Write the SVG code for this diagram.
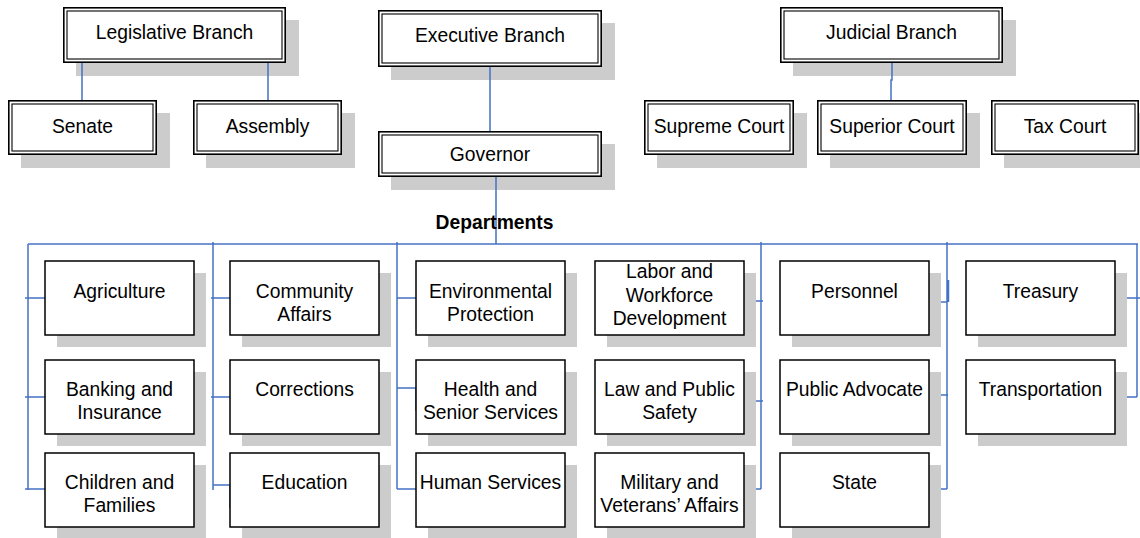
<svg xmlns="http://www.w3.org/2000/svg" width="1140" height="538" viewBox="0 0 1140 538">
<style>
.sh{fill:#cccccc}
.ob{fill:#ffffff;stroke:#000;stroke-width:1.6}
.ib{fill:none;stroke:#000;stroke-width:1.1}
.db{fill:#ffffff;stroke:#000;stroke-width:1.5}
text{font-family:"Liberation Sans",Arial,sans-serif;font-size:19.3px;fill:#000;text-anchor:middle}
.b{font-weight:bold}
.c{fill:none;stroke:#4472C4;stroke-width:1.5}
</style>
<rect width="1140" height="538" fill="#ffffff"/>
<g id="shadows">
<rect class="sh" x="76" y="20" width="223" height="56"/>
<rect class="sh" x="21" y="113" width="149" height="55"/>
<rect class="sh" x="206" y="113" width="149" height="55"/>
<rect class="sh" x="391" y="23" width="224" height="57"/>
<rect class="sh" x="391" y="144" width="224" height="46"/>
<rect class="sh" x="793" y="20" width="223" height="56"/>
<rect class="sh" x="657" y="113" width="150" height="55"/>
<rect class="sh" x="830" y="113" width="150" height="55"/>
<rect class="sh" x="1004" y="113" width="148" height="55"/>
</g>
<g id="connectors">
<path class="c" d="M82 63V100M268 63V100M490 67V131M892 63V80H891V100M496 177V244"/>
<path class="c" d="M28 244H1138"/>
<path class="c" d="M28 244V490M25 298H45M25 397H45M25 489H45"/>
<path class="c" d="M213 242V490M211 298H230M211 397H230M213 485H230V508"/>
<path class="c" d="M397 242V489M397 298H416M397 388H416V411M397 489H416"/>
<path class="c" d="M761 242V489M744 301H763M744 401H763M744 489H761"/>
<path class="c" d="M947 242V489M929 296V302H947M948.5 280V302M929 395H948M929 489H947"/>
<path class="c" d="M1137 244V397M1114 298H1140M1114 397H1137"/>
</g>
<g id="legislative"><rect class="ob" x="63.8" y="7.8" width="221.4" height="54.4"/><rect class="ib" x="67" y="11" width="215" height="48"/><text x="174.5" y="39">Legislative Branch</text></g>
<g id="senate"><rect class="ob" x="8.8" y="100.8" width="147.4" height="53.4"/><rect class="ib" x="12" y="104" width="141" height="47"/><text x="82.5" y="133">Senate</text></g>
<g id="assembly"><rect class="ob" x="193.8" y="100.8" width="147.4" height="53.4"/><rect class="ib" x="197" y="104" width="141" height="47"/><text x="267.5" y="133">Assembly</text></g>
<g id="executive"><rect class="ob" x="378.8" y="10.8" width="222.4" height="55.4"/><rect class="ib" x="382" y="14" width="216" height="49"/><text x="490" y="42">Executive Branch</text></g>
<g id="governor"><rect class="ob" x="378.8" y="131.8" width="222.4" height="44.4"/><rect class="ib" x="382" y="135" width="216" height="38"/><text x="490" y="161">Governor</text></g>
<g id="judicial"><rect class="ob" x="780.8" y="7.8" width="221.4" height="54.4"/><rect class="ib" x="784" y="11" width="215" height="48"/><text x="891.5" y="39">Judicial Branch</text></g>
<g id="supreme"><rect class="ob" x="644.8" y="100.8" width="148.4" height="53.4"/><rect class="ib" x="648" y="104" width="142" height="47"/><text x="719" y="133">Supreme Court</text></g>
<g id="superior"><rect class="ob" x="817.8" y="100.8" width="148.4" height="53.4"/><rect class="ib" x="821" y="104" width="142" height="47"/><text x="892" y="133">Superior Court</text></g>
<g id="tax"><rect class="ob" x="991.8" y="100.8" width="146.4" height="53.4"/><rect class="ib" x="995" y="104" width="140" height="47"/><text x="1065" y="133">Tax Court</text></g>
<text class="b" x="494.5" y="229">Departments</text>
<g id="agriculture"><rect class="sh" x="57" y="273" width="149" height="74"/><rect class="db" x="45" y="261" width="149" height="74"/><text x="119.5" y="298">Agriculture</text></g>
<g id="banking"><rect class="sh" x="57" y="372" width="149" height="74"/><rect class="db" x="45" y="360" width="149" height="74"/><text x="119.5" y="396">Banking and</text><text x="119.5" y="419.3">Insurance</text></g>
<g id="children"><rect class="sh" x="57" y="465" width="149" height="74"/><rect class="db" x="45" y="453" width="149" height="74"/><text x="119.5" y="489">Children and</text><text x="119.5" y="512.3">Families</text></g>
<g id="community"><rect class="sh" x="242" y="273" width="149" height="74"/><rect class="db" x="230" y="261" width="149" height="74"/><text x="304.5" y="298">Community</text><text x="304.5" y="321.3">Affairs</text></g>
<g id="corrections"><rect class="sh" x="242" y="372" width="149" height="74"/><rect class="db" x="230" y="360" width="149" height="74"/><text x="304.5" y="396">Corrections</text></g>
<g id="education"><rect class="sh" x="242" y="465" width="149" height="74"/><rect class="db" x="230" y="453" width="149" height="74"/><text x="304.5" y="489">Education</text></g>
<g id="environmental"><rect class="sh" x="428" y="273" width="149" height="74"/><rect class="db" x="416" y="261" width="149" height="74"/><text x="490.5" y="298">Environmental</text><text x="490.5" y="321.3">Protection</text></g>
<g id="health"><rect class="sh" x="428" y="372" width="149" height="74"/><rect class="db" x="416" y="360" width="149" height="74"/><text x="490.5" y="396">Health and</text><text x="490.5" y="419.3">Senior Services</text></g>
<g id="human"><rect class="sh" x="428" y="465" width="149" height="74"/><rect class="db" x="416" y="453" width="149" height="74"/><text x="490.5" y="489">Human Services</text></g>
<g id="labor"><rect class="sh" x="607" y="273" width="149" height="74"/><rect class="db" x="595" y="261" width="149" height="74"/><text x="669.5" y="278.3">Labor and</text><text x="669.5" y="301.6">Workforce</text><text x="669.5" y="325">Development</text></g>
<g id="law"><rect class="sh" x="607" y="372" width="149" height="74"/><rect class="db" x="595" y="360" width="149" height="74"/><text x="669.5" y="396">Law and Public</text><text x="669.5" y="419.3">Safety</text></g>
<g id="military"><rect class="sh" x="607" y="465" width="149" height="74"/><rect class="db" x="595" y="453" width="149" height="74"/><text x="669.5" y="489">Military and</text><text x="669.5" y="512.3">Veterans’ Affairs</text></g>
<g id="personnel"><rect class="sh" x="792" y="273" width="149" height="74"/><rect class="db" x="780" y="261" width="149" height="74"/><text x="854.5" y="298">Personnel</text></g>
<g id="advocate"><rect class="sh" x="792" y="372" width="149" height="74"/><rect class="db" x="780" y="360" width="149" height="74"/><text x="854.5" y="396">Public Advocate</text></g>
<g id="state"><rect class="sh" x="792" y="465" width="149" height="74"/><rect class="db" x="780" y="453" width="149" height="74"/><text x="854.5" y="489">State</text></g>
<g id="treasury"><rect class="sh" x="978" y="273" width="149" height="74"/><rect class="db" x="966" y="261" width="149" height="74"/><text x="1040.5" y="298">Treasury</text></g>
<g id="transportation"><rect class="sh" x="978" y="372" width="149" height="74"/><rect class="db" x="966" y="360" width="149" height="74"/><text x="1040.5" y="396">Transportation</text></g>
</svg>
